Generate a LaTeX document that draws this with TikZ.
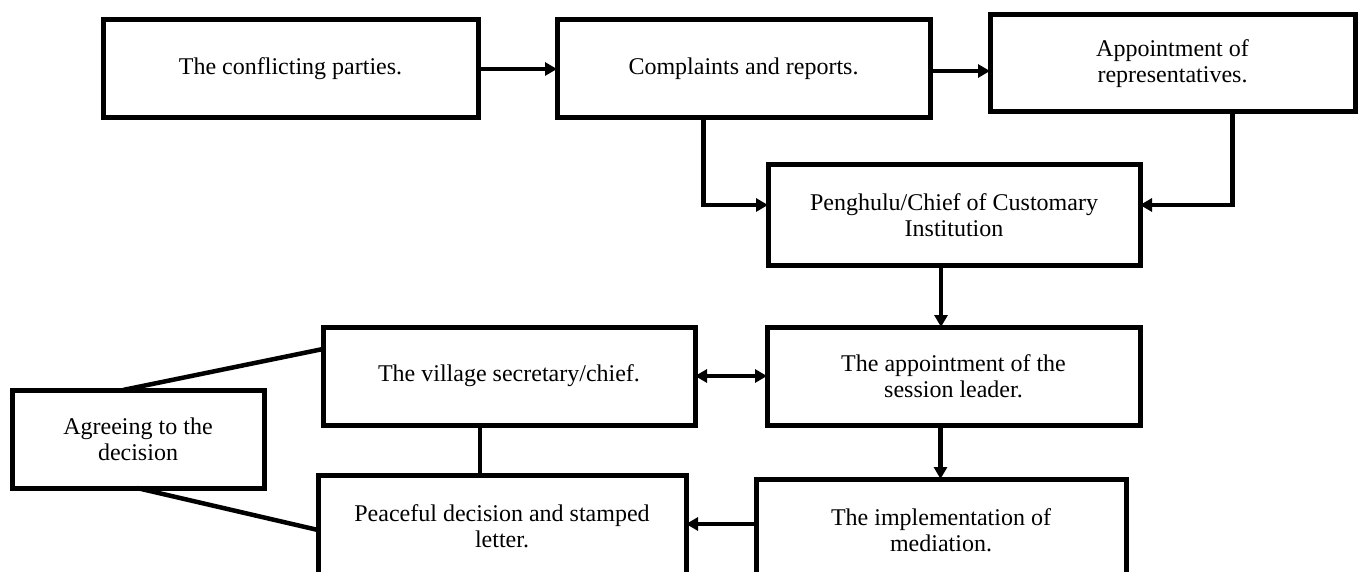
\documentclass[tikz,border=0pt]{standalone}
\usepackage{fontspec}
\setmainfont{Liberation Serif}
\usetikzlibrary{arrows.meta}
\begin{document}
\begin{tikzpicture}[x=1pt,y=-1pt,
  box/.style={draw, line width=5pt, inner sep=0pt, outer sep=0pt, align=center,
    font=\fontsize{24}{26}\selectfont, anchor=center},
  conn/.style={line width=4.5pt},
  arr/.style={conn, -{Triangle[length=12pt,width=13pt]}},
  darr/.style={conn, {Triangle[length=12pt,width=13pt]}-{Triangle[length=12pt,width=13pt]}}]
\useasboundingbox (0,0) rectangle (1359,572);
\clip (0,0) rectangle (1359,572);
% top row
\node[box, minimum width=375pt, minimum height=98pt] (b1) at (290.5,69) {The conflicting parties.};
\node[box, minimum width=373pt, minimum height=98pt] (b2) at (743.5,69) {Complaints and reports.};
\node[box, minimum width=365pt, minimum height=97pt] (b3) at (1172.5,63.5) {Appointment of\\representatives.};
% middle
\node[box, minimum width=372pt, minimum height=100pt] (pen) at (954,215) {Penghulu/Chief of Customary\\Institution};
\node[box, minimum width=373pt, minimum height=98pt] (ses) at (953.5,376) {The appointment of the\\session leader.};
\node[box, minimum width=372pt, minimum height=98pt] (vil) at (509,376) {The village secretary/chief.};
\node[box, minimum width=252pt, minimum height=98pt] (agr) at (138,439) {Agreeing to the\\decision};
% bottom (cut by page edge)
\node[box, minimum width=368pt, minimum height=102pt] (pea) at (502,526) {Peaceful decision and stamped\\letter.};
\node[box, minimum width=370pt, minimum height=102pt] (imp) at (941,530) {The implementation of\\mediation.};
% connectors
\draw[arr] (b1.east) -- (b2.west);
\draw[arr] ([yshift=-2pt]b2.east) -- ([yshift=-2pt]b2.east -| b3.west);
\draw[arr] ([xshift=-40pt]b2.south) |- ([yshift=10pt]pen.west);
\draw[arr] ([xshift=60pt]b3.south) |- ([yshift=10pt]pen.east);
\draw[arr] ([xshift=-13pt]pen.south) -- ([xshift=-13pt]pen.south |- ses.north);
\draw[arr] ([xshift=-13pt]ses.south) -- ([xshift=-13pt]ses.south |- imp.north);
\draw[darr] (vil.east) -- (ses.west);
\draw[arr] ([yshift=6pt]imp.west) -- ([yshift=6pt]imp.west -| pea.east);
\draw[conn] ([xshift=-29pt]vil.south) -- ([xshift=-29pt]vil.south |- pea.north);
\draw[conn] ([xshift=-15pt]agr.north) -- ([yshift=27pt]vil.west);
\draw[conn] ([xshift=-1pt]agr.south) -- ([yshift=-4pt]pea.west);
\end{tikzpicture}
\end{document}
